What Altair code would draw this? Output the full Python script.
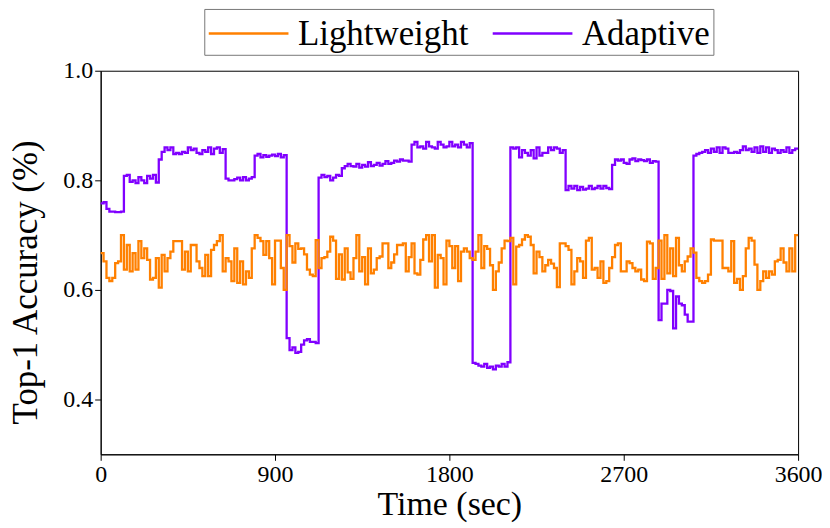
import altair as alt
import pandas as pd

STEP = 15  # seconds per sample

lightweight = [
    0.667, 0.652, 0.622, 0.616, 0.622, 0.649, 0.652, 0.700, 0.637, 0.682,
    0.634, 0.667, 0.637, 0.689, 0.658, 0.676, 0.655, 0.619, 0.622, 0.658,
    0.604, 0.664, 0.634, 0.658, 0.670, 0.689, 0.689, 0.689, 0.637, 0.670,
    0.634, 0.682, 0.682, 0.652, 0.640, 0.625, 0.664, 0.625, 0.673, 0.682,
    0.689, 0.700, 0.634, 0.658, 0.652, 0.616, 0.676, 0.613, 0.652, 0.610,
    0.634, 0.622, 0.676, 0.700, 0.695, 0.689, 0.664, 0.689, 0.658, 0.610,
    0.690, 0.690, 0.640, 0.600, 0.700, 0.680, 0.650, 0.685, 0.675, 0.676,
    0.665, 0.637, 0.628, 0.625, 0.691, 0.640, 0.658, 0.660, 0.670, 0.697,
    0.690, 0.620, 0.665, 0.619, 0.676, 0.632, 0.620, 0.658, 0.700, 0.634,
    0.660, 0.610, 0.676, 0.630, 0.637, 0.658, 0.661, 0.685, 0.685, 0.640,
    0.650, 0.665, 0.682, 0.682, 0.685, 0.634, 0.660, 0.685, 0.630, 0.628,
    0.655, 0.692, 0.700, 0.652, 0.700, 0.604, 0.664, 0.658, 0.610, 0.690,
    0.680, 0.640, 0.680, 0.616, 0.670, 0.676, 0.670, 0.658, 0.655, 0.670,
    0.700, 0.640, 0.680, 0.675, 0.645, 0.600, 0.634, 0.650, 0.676, 0.690,
    0.689, 0.695, 0.610, 0.679, 0.682, 0.692, 0.700, 0.697, 0.682, 0.630,
    0.670, 0.660, 0.634, 0.645, 0.655, 0.648, 0.640, 0.605, 0.685, 0.685,
    0.680, 0.673, 0.610, 0.634, 0.658, 0.652, 0.622, 0.690, 0.695, 0.637,
    0.640, 0.622, 0.652, 0.613, 0.616, 0.640, 0.660, 0.682, 0.685, 0.634,
    0.634, 0.652, 0.649, 0.640, 0.634, 0.637, 0.619, 0.616, 0.688, 0.685,
    0.620, 0.640, 0.690, 0.620, 0.700, 0.630, 0.676, 0.625, 0.695, 0.645,
    0.634, 0.652, 0.661, 0.676, 0.668, 0.622, 0.616, 0.613, 0.616, 0.628,
    0.692, 0.690, 0.690, 0.690, 0.640, 0.640, 0.634, 0.689, 0.613, 0.620,
    0.600, 0.625, 0.676, 0.695, 0.690, 0.646, 0.600, 0.616, 0.634, 0.622,
    0.634, 0.628, 0.652, 0.655, 0.676, 0.650, 0.634, 0.676, 0.634, 0.700,
]

adaptive = [
    # 0-120 s
    0.758, 0.760, 0.748, 0.743, 0.743, 0.742, 0.742, 0.743,
    # 120-300 s
    0.808, 0.810, 0.797, 0.800, 0.795, 0.806, 0.800, 0.795, 0.808, 0.803, 0.810, 0.796,
    # 300-645 s
    0.838, 0.852, 0.860, 0.855, 0.860, 0.848, 0.850, 0.848, 0.852, 0.850, 0.860, 0.855,
    0.858, 0.850, 0.848, 0.855, 0.852, 0.860, 0.848, 0.858, 0.860, 0.850, 0.857,
    # 645-795 s
    0.803, 0.800, 0.800, 0.802, 0.805, 0.800, 0.806, 0.800, 0.803, 0.806,
    # 795-960 s
    0.845, 0.848, 0.842, 0.846, 0.843, 0.845, 0.847, 0.844, 0.848, 0.842, 0.846,
    # 960-1125 s
    0.512, 0.490, 0.495, 0.485, 0.487, 0.500, 0.508, 0.510, 0.505, 0.505, 0.503,
    # 1125-1245 s
    0.805, 0.810, 0.806, 0.808, 0.800, 0.805, 0.810, 0.808,
    # 1245-1605 s
    0.822, 0.826, 0.830, 0.826, 0.825, 0.830, 0.823, 0.828, 0.825, 0.833, 0.826, 0.828,
    0.832, 0.827, 0.830, 0.835, 0.830, 0.832, 0.836, 0.834, 0.838, 0.836, 0.836, 0.834,
    # 1605-1920 s
    0.865, 0.870, 0.860, 0.862, 0.858, 0.870, 0.862, 0.860, 0.858, 0.870, 0.865,
    0.860, 0.862, 0.870, 0.862, 0.865, 0.860, 0.870, 0.865, 0.860, 0.868,
    # 1920-2115 s
    0.467, 0.465, 0.462, 0.460, 0.465, 0.458, 0.460, 0.455, 0.462, 0.460, 0.465, 0.460, 0.468,
    # 2115-2400 s
    0.860, 0.858, 0.860, 0.842, 0.855, 0.850, 0.845, 0.855, 0.840, 0.860, 0.845, 0.850,
    0.850, 0.860, 0.855, 0.860, 0.858, 0.850, 0.855,
    # 2400-2640 s
    0.782, 0.790, 0.785, 0.790, 0.782, 0.788, 0.783, 0.785, 0.790, 0.784, 0.786, 0.790,
    0.785, 0.790, 0.786, 0.784,
    # 2640-2880 s
    0.828, 0.838, 0.836, 0.838, 0.832, 0.830, 0.838, 0.840, 0.835, 0.838, 0.837, 0.835,
    0.838, 0.832, 0.835, 0.834,
    # 2880-3060 s
    0.545, 0.575, 0.575, 0.600, 0.598, 0.530, 0.588, 0.575, 0.572, 0.555, 0.542, 0.542,
    # 3060-3600 s
    0.845, 0.848, 0.850, 0.852, 0.855, 0.850, 0.858, 0.852, 0.860, 0.850, 0.860, 0.858,
    0.850, 0.850, 0.852, 0.850, 0.855, 0.862, 0.855, 0.858, 0.852, 0.860, 0.850, 0.862,
    0.852, 0.860, 0.850, 0.858, 0.855, 0.850, 0.855, 0.852, 0.860, 0.850, 0.855, 0.858,
]

series_names = ["Lightweight", "Adaptive"]
series_colors = ["#FF8000", "#8000FF"]
x_ticks = [0, 900, 1800, 2700, 3600]
y_ticks = [0.4, 0.6, 0.8, 1.0]

rows = []
for name, vals in zip(series_names, [lightweight, adaptive]):
    for i, v in enumerate(vals):
        rows.append({"t": i * STEP, "acc": v, "series": name})
    rows.append({"t": len(vals) * STEP, "acc": vals[-1], "series": name})
df = pd.DataFrame(rows)

FONT = "Liberation Serif"

color = alt.Color(
    "series:N",
    scale=alt.Scale(domain=series_names, range=series_colors),
    legend=alt.Legend(
        title=None,
        orient="none",
        legendX=104,
        legendY=-62,
        direction="horizontal",
        symbolType="M-1,0L3,0",
        symbolSize=1600,
        symbolStrokeWidth=2.5,
        labelFont=FONT,
        labelFontSize=35,
        labelColor="black",
        labelOffset=48,
        columnPadding=18,
        padding=3,
        strokeColor="#777777",
        fillColor="white",
        labelLimit=400,
    ),
)

x = alt.X(
    "t:Q",
    scale=alt.Scale(domain=[0, 3600], nice=False),
    axis=alt.Axis(
        values=x_ticks,
        format="d",
        labelFlush=False,
        labelFont=FONT,
        labelFontSize=24,
        title="Time (sec)",
        titleY=33,
        titleFont=FONT,
        titleFontSize=34,
    ),
)
y = alt.Y(
    "acc:Q",
    scale=alt.Scale(domain=[0.3, 1.0], nice=False, zero=False),
    axis=alt.Axis(
        values=y_ticks,
        format=".1f",
        labelFont=FONT,
        labelFontSize=24,
        title="Top-1 Accuracy (%)",
        titleX=-57,
        titleY=212,
        titleFont=FONT,
        titleFontSize=35,
    ),
)

base = alt.Chart(df)
purple = base.transform_filter(alt.datum.series == "Adaptive").mark_line(
    interpolate="step-after", strokeWidth=2.3
).encode(x=x, y=y, color=color)
orange = base.transform_filter(alt.datum.series == "Lightweight").mark_line(
    interpolate="step-after", strokeWidth=2.3
).encode(x=x, y=y, color=color)

chart = (
    alt.layer(purple, orange)
    .properties(
        width=700,
        height=385,
        autosize=alt.AutoSizeParams(type="none"),
        padding={"left": 93, "top": 62, "right": 24, "bottom": 72},
    )
    .configure_view(stroke="black", strokeWidth=1)
    .configure_axis(
        grid=False,
        domainColor="black",
        tickColor="black",
        labelColor="black",
        titleColor="black",
        labelFont=FONT,
        titleFont=FONT,
        titleFontWeight="normal",
        tickSize=6,
        labelPadding=2,
    )
)

chart.save("out.html", embed_options={"renderer": "svg", "actions": False})
